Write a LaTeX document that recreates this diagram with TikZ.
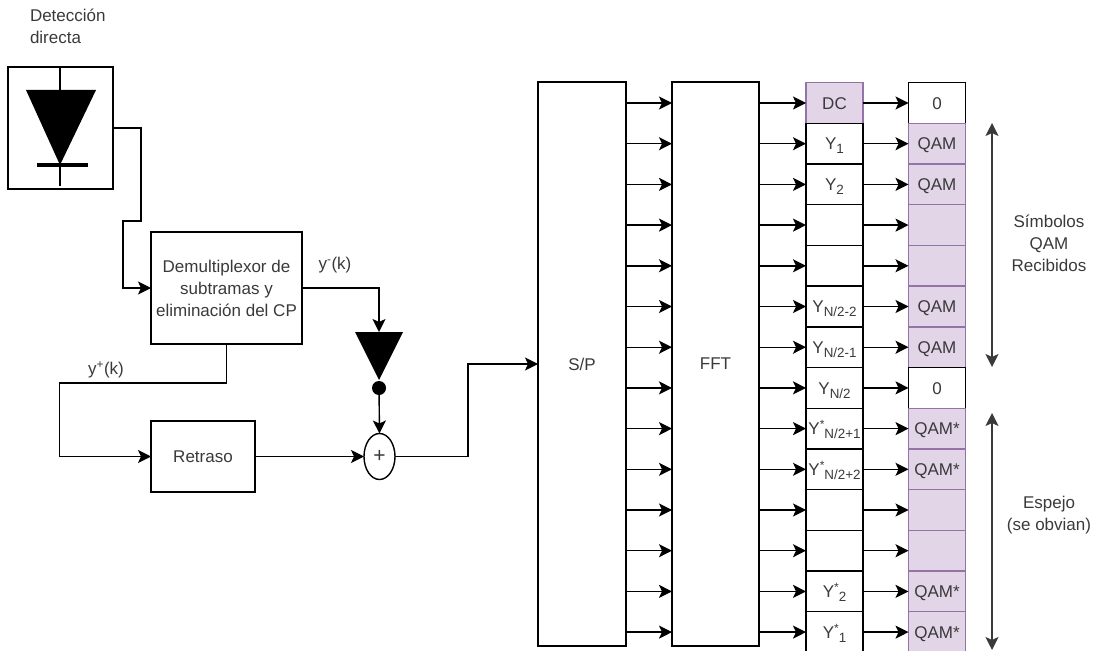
\documentclass[tikz,border=0pt]{standalone}
\usepackage{fontspec}
\setmainfont{Liberation Sans}
\usepackage{xcolor}
\usetikzlibrary{arrows.meta, positioning, calc, shapes.geometric}
\definecolor{inkgray}{HTML}{3A3A3A}
\definecolor{lilacfill}{HTML}{E1D5E7}
\definecolor{lilacline}{HTML}{9673A6}
\newcommand{\ysub}[1]{\raisebox{-4pt}{\fontsize{13.4}{14}\selectfont #1}}
\newcommand{\ysup}{\raisebox{6pt}{\fontsize{12}{14}\selectfont *}}

\begin{document}
\begin{tikzpicture}[
  x=1pt, y=-1pt,
  >={Stealth[length=13pt,width=13pt,inset=3pt]},
  every node/.style={font=\fontsize{17}{22}\selectfont, text=inkgray, align=center, inner sep=0pt, outer sep=0pt},
  block/.style={draw=black, fill=white, line width=1.4pt},
  plainrow/.style={block, minimum width=57pt, minimum height=40.7pt, text height=12.5pt, text depth=0pt},
  lilacrow/.style={plainrow, draw=lilacline, fill=lilacfill},
  edge/.style={->, line width=1.4pt, color=black},
  span/.style={<->, line width=1.4pt, color=inkgray}
]
  \useasboundingbox (0,0) rectangle (1094,650);

  % Photodetector
  \node[block, minimum width=105pt, minimum height=122pt] (detector) at (60.5,128) {};
  \node[anchor=north west, align=left] (detectorlabel) at (30,9) {Detección\\directa};
  \coordinate (diodetop) at (60,90);
  \coordinate (diodetip) at (60,165);
  \draw[line width=1.5pt] (60,66) -- (diodetop);
  \draw[line width=1.5pt] (diodetip) -- (60,186);
  \fill[black] (26,90) -- (96,90) -- (diodetip) -- cycle;
  \draw[line width=4pt] (37,165) -- (88,165);

  % Left side blocks
  \node[block, minimum width=151pt, minimum height=112pt] (demux) at (226.5,288)
    {Demultiplexor de\\subtramas y\\eliminación del CP};
  \node[block, minimum width=104pt, minimum height=71pt] (delay) at (203,456.5) {Retraso};
  \node[draw=none, fill=black, isosceles triangle, isosceles triangle stretches,
        shape border rotate=-90, minimum width=48pt, minimum height=48pt,
        anchor=apex] (amp) at (379,380) {};
  \node[circle, fill=black, minimum size=14pt] (ampdot) at (379,388) {};
  \node[block, ellipse, minimum width=31pt, minimum height=46pt, font=\fontsize{21}{22}\selectfont] (adder) at (379.5,456.5) {+};
  \node (ylow) at (335,265) {y\textsuperscript{-}(k)};
  \node (yhigh) at (106,370) {y\textsuperscript{+}(k)};

  \draw[edge] (detector.east) -- ++(28,0) -- ++(0,93) -- ++(-18,0) |- (demux.west);
  \draw[edge] (demux.east) -| (amp.lower side);
  \draw[edge] (demux.south) -- ++(0,39) -- ++(-167,0) |- (delay.west);
  \draw[edge] (ampdot) -- (adder.north);
  \draw[edge] (delay) -- (adder);

  % Main blocks
  \node[block, minimum width=88pt, minimum height=564pt] (sp) at (582,364) {S/P};
  \node[block, minimum width=87pt, minimum height=564pt, right=46pt of sp] (fft) {FFT};
  \draw[edge] (adder.east) -- ++(73,0) |- (sp.west);

  % Y column and QAM column, row by row
  \foreach \i/\ylabel/\ystyle/\qlabel/\qstyle in {
    0/DC/lilacrow/0/plainrow,
    1/Y\ysub{1}/plainrow/QAM/lilacrow,
    2/Y\ysub{2}/plainrow/QAM/lilacrow,
    3//plainrow//lilacrow,
    4//plainrow//lilacrow,
    5/Y\ysub{N/2-2}/plainrow/QAM/lilacrow,
    6/Y\ysub{N/2-1}/plainrow/QAM/lilacrow,
    7/Y\ysub{N/2}/plainrow/0/plainrow,
    8/Y\ysup\ysub{N/2+1}/plainrow/QAM*/lilacrow,
    9/Y\ysup\ysub{N/2+2}/plainrow/QAM*/lilacrow,
    10//plainrow//lilacrow,
    11//plainrow//lilacrow,
    12/Y\ysup\ysub{2}/plainrow/QAM*/lilacrow,
    13/Y\ysup\ysub{1}/plainrow/QAM*/lilacrow} {
    \node[\ystyle] (y\i) at (834.5,103+40.7*\i) {\ylabel};
    \node[\qstyle] (q\i) at (937,103+40.7*\i) {\qlabel};
    \draw[edge] (y\i.west -| sp.east) -- (y\i.west -| fft.west);
    \draw[edge] (y\i.west -| fft.east) -- (y\i.west);
    \draw[edge] (y\i.east) -- (q\i.west);
  }

  % Brackets on the right
  \coordinate (qamtop) at (992,123);
  \coordinate (qambottom) at (992,367);
  \coordinate (mirrortop) at (992,413);
  \coordinate (mirrorbottom) at (992,650);
  \draw[span] (qamtop) -- (qambottom);
  \draw[span] (mirrortop) -- (mirrorbottom);
  \node (qamlabel) at (1049,243) {Símbolos\\QAM\\Recibidos};
  \node (mirrorlabel) at (1049,515) {Espejo\\(se obvian)};
\end{tikzpicture}
\end{document}
